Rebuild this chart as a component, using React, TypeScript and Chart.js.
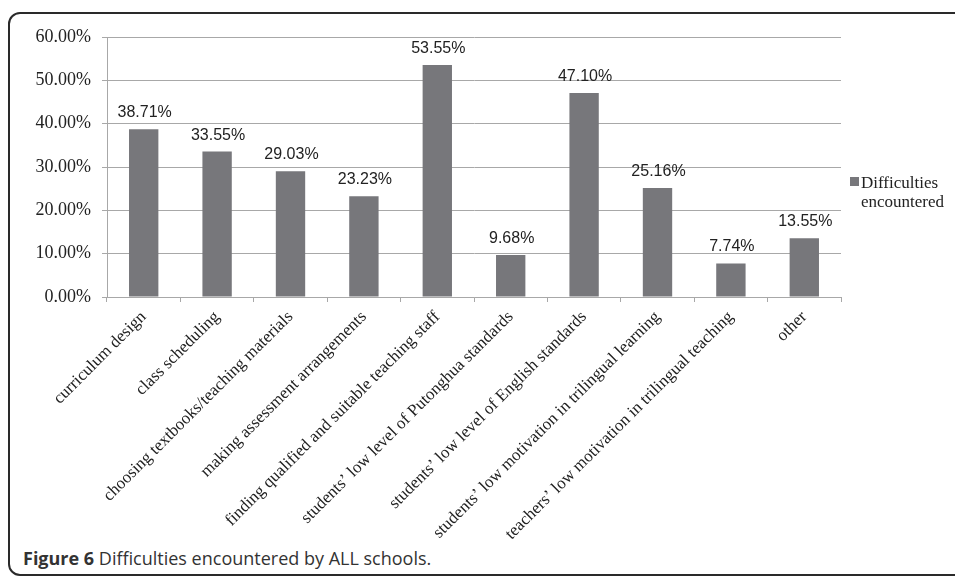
import React, { useEffect, useRef } from "react";
import { Chart, registerables } from "chart.js";

Chart.register(...registerables);

const categories: string[] = [
  "curriculum design",
  "class scheduling",
  "choosing textbooks/teaching materials",
  "making assessment arrangements",
  "finding qualified and suitable teaching staff",
  "students\u2019 low level of Putonghua standards",
  "students\u2019 low level of English standards",
  "students\u2019 low motivation in trilingual learning",
  "teachers\u2019 low motivation in trilingual teaching",
  "other",
];
const seriesName = "Difficulties encountered";
const values: number[] = [38.71, 33.55, 29.03, 23.23, 53.55, 9.68, 47.1, 25.16, 7.74, 13.55];
const yTicks: number[] = [0, 10, 20, 30, 40, 50, 60];

const BAR = "#77777b";
const GRID = "#a8a8a8";

const valueLabels = {
  id: "valueLabels",
  afterDatasetsDraw(chart: any) {
    const ctx = chart.ctx;
    const meta = chart.getDatasetMeta(0);
    ctx.save();
    ctx.font = '16px "Liberation Sans", Arial, sans-serif';
    ctx.fillStyle = "#222";
    ctx.textAlign = "center";
    ctx.textBaseline = "alphabetic";
    meta.data.forEach((bar: any, i: number) => {
      ctx.fillText(`${values[i].toFixed(2)}%`, bar.x + 1, bar.y - 12);
    });
    ctx.restore();
  },
};

export default function App() {
  const ref = useRef<HTMLCanvasElement | null>(null);
  useEffect(() => {
    if (!ref.current) return;
    const chart = new Chart(ref.current, {
      type: "bar",
      data: {
        labels: categories,
        datasets: [
          {
            label: seriesName,
            data: values,
            backgroundColor: BAR,
            borderWidth: 0,
            barPercentage: 0.4,
            categoryPercentage: 1,
          },
        ],
      },
      options: {
        responsive: false,
        animation: false,
        devicePixelRatio: 1,
        layout: { padding: { left: 0, top: 37, right: 114, bottom: 0 } },
        plugins: {
          legend: { display: false },
          tooltip: { enabled: false },
          title: { display: false },
        },
        scales: {
          x: {
            afterFit: (s: any) => {
              s.height = 248;
            },
            grid: {
              drawOnChartArea: false,
              drawTicks: true,
              tickLength: 5,
              color: GRID,
              offset: true,
            },
            border: { color: GRID, width: 1 },
            ticks: {
              minRotation: 45,
              maxRotation: 45,
              autoSkip: false,
              padding: 5,
              color: "#222",
              font: { family: '"Liberation Serif", "Times New Roman", serif', size: 17 },
            },
          },
          y: {
            min: 0,
            max: 60,
            afterFit: (s: any) => {
              s.width = 107;
            },
            afterBuildTicks: (s: any) => {
              s.ticks = yTicks.map((v) => ({ value: v }));
            },
            grid: { color: GRID, tickLength: 5, drawTicks: true },
            border: { color: GRID, width: 1 },
            ticks: {
              padding: 11,
              color: "#222",
              font: { family: '"Liberation Serif", "Times New Roman", serif', size: 18 },
              callback: (v: any) => `${Number(v).toFixed(2)}%`,
            },
          },
        },
      },
      plugins: [valueLabels],
    });
    return () => chart.destroy();
  }, []);

  return (
    <div
      style={{
        position: "fixed",
        left: 0,
        top: 0,
        width: 955,
        height: 579,
        overflow: "hidden",
        background: "#fff",
      }}
    >
      <div
        style={{
          position: "absolute",
          left: 8,
          top: 12,
          width: 1000,
          height: 564,
          border: "2px solid #2a2a2a",
          borderRadius: 12,
          boxSizing: "border-box",
        }}
      />
      <canvas
        ref={ref}
        width={955}
        height={545}
        style={{ position: "absolute", left: 0, top: 0, width: 955, height: 545 }}
      />
      <div
        style={{
          position: "absolute",
          left: 850,
          top: 177,
          width: 9,
          height: 9,
          background: BAR,
        }}
      />
      <div
        style={{
          position: "absolute",
          left: 861,
          top: 173,
          fontFamily: '"Liberation Serif", "Times New Roman", serif',
          fontSize: 17,
          lineHeight: "19px",
          color: "#222",
        }}
      >
        Difficulties
        <br />
        encountered
      </div>
      <div
        style={{
          position: "absolute",
          left: 23,
          top: 547,
          fontFamily: '"Open Sans", "Noto Sans", sans-serif',
          fontSize: 18,
          lineHeight: "22px",
          color: "#333",
          whiteSpace: "nowrap",
        }}
      >
        <b>Figure 6</b> Difficulties encountered by ALL schools.
      </div>
    </div>
  );
}
